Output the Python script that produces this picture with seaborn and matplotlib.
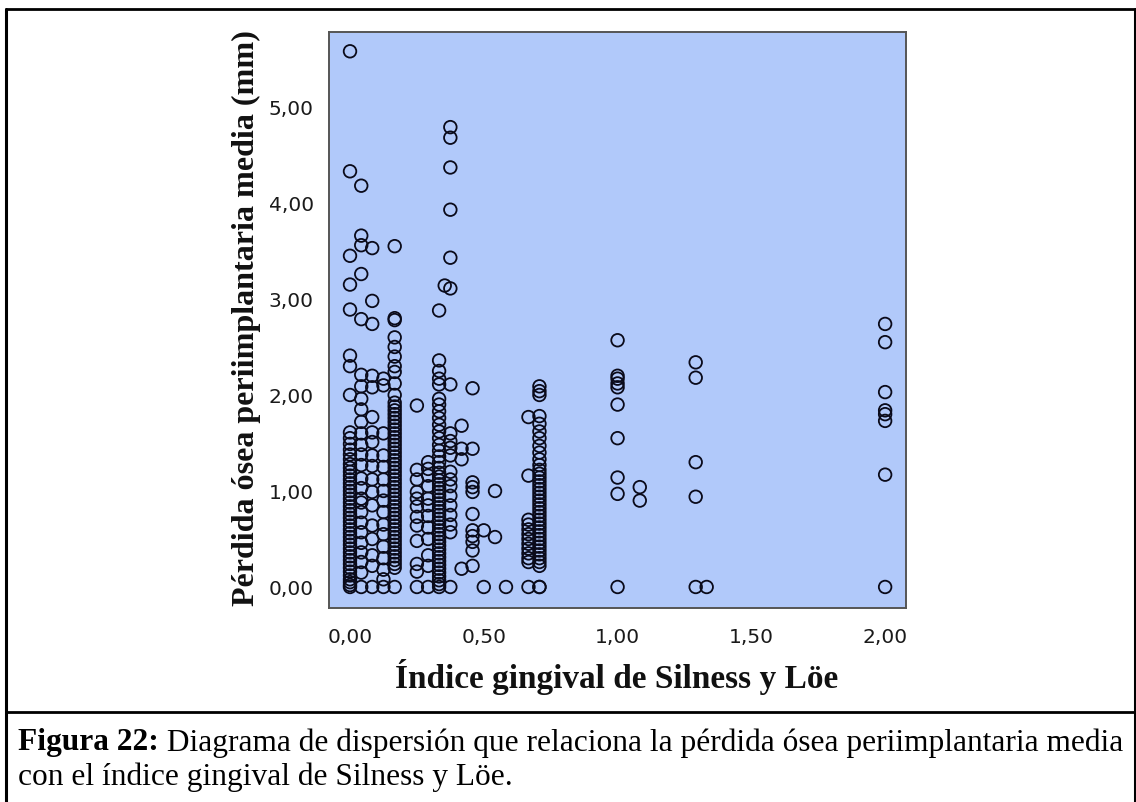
import numpy as np
import pandas as pd
import matplotlib
matplotlib.use("Agg")
import matplotlib.pyplot as plt
import seaborn as sns
from matplotlib.lines import Line2D

# ---------------- data ----------------
# gingival index values (x) and the mean peri-implant bone loss values (y) at each
gi_values = [0.000, 0.042, 0.083, 0.125, 0.167, 0.250, 0.292, 0.333, 0.354,
             0.375, 0.417, 0.458, 0.500, 0.542, 0.583, 0.667, 0.708,
             1.000, 1.083, 1.292, 1.333, 2.000]

y_000 = [5.58, 4.33, 3.45, 3.15, 2.89, 2.41, 2.30, 2.00, 1.61, 1.55, 1.49, 1.43,
         1.38, 1.33, 1.28, 1.24, 1.20, 1.16, 1.12, 1.08, 1.04, 1.00, 0.96, 0.92,
         0.88, 0.84, 0.80, 0.76, 0.72, 0.68, 0.64, 0.60, 0.56, 0.52, 0.48, 0.44,
         0.40, 0.36, 0.32, 0.28, 0.24, 0.20, 0.16, 0.12, 0.08, 0.05, 0.02, 0.00]
y_004 = [4.18, 3.66, 3.56, 3.26, 2.79, 2.21, 2.09, 1.96, 1.85, 1.72, 1.60, 1.48,
         1.38, 1.27, 1.13, 1.03, 0.92, 0.88, 0.78, 0.67, 0.57, 0.46, 0.36, 0.26,
         0.15, 0.00]
y_008 = [3.53, 2.98, 2.74, 2.20, 2.08, 1.77, 1.61, 1.51, 1.37, 1.26, 1.12, 0.99,
         0.85, 0.64, 0.50, 0.33, 0.22, 0.00]
y_013 = [2.17, 2.10, 1.60, 1.37, 1.25, 1.12, 1.00, 0.90, 0.78, 0.65, 0.55, 0.42,
         0.30, 0.18, 0.08, 0.00]
y_017 = [3.55, 2.80, 2.78, 2.60, 2.50, 2.40, 2.30, 2.24, 2.12, 2.00, 1.92, 1.88,
         1.84, 1.80, 1.76, 1.72, 1.68, 1.64, 1.60, 1.56, 1.52, 1.48, 1.44, 1.40,
         1.36, 1.32, 1.28, 1.24, 1.20, 1.16, 1.12, 1.08, 1.04, 1.00, 0.96, 0.92,
         0.88, 0.84, 0.80, 0.76, 0.72, 0.68, 0.64, 0.60, 0.56, 0.52, 0.48, 0.44,
         0.40, 0.36, 0.32, 0.28, 0.24, 0.20, 0.00]
y_025 = [1.89, 1.22, 1.12, 0.99, 0.92, 0.84, 0.73, 0.64, 0.48, 0.24, 0.16, 0.00]
y_029 = [1.30, 1.23, 1.16, 1.05, 0.92, 0.85, 0.74, 0.62, 0.50, 0.33, 0.22, 0.00]
y_033 = [2.88, 2.36, 2.25, 2.17, 2.11, 1.96, 1.90, 1.83, 1.76, 1.69, 1.62, 1.55,
         1.48, 1.42, 1.36, 1.30, 1.24, 1.19, 1.15, 1.11, 1.07, 1.03, 0.99, 0.95,
         0.91, 0.87, 0.83, 0.79, 0.75, 0.71, 0.67, 0.63, 0.59, 0.55, 0.51, 0.47,
         0.43, 0.39, 0.35, 0.31, 0.27, 0.23, 0.19, 0.15, 0.11, 0.07, 0.03, 0.00]
y_035 = [3.14]
y_038 = [4.79, 4.68, 4.37, 3.93, 3.43, 3.11, 2.11, 1.60, 1.52, 1.45, 1.37, 1.20,
         1.12, 1.05, 0.95, 0.85, 0.75, 0.65, 0.57, 0.00]
y_042 = [1.68, 1.44, 1.33, 0.19]
y_046 = [2.07, 1.44, 1.09, 1.04, 0.99, 0.76, 0.59, 0.53, 0.47, 0.38, 0.22]
y_050 = [0.59, 0.00]
y_054 = [1.00, 0.52]
y_058 = [0.00]
y_067 = [1.77, 1.16, 0.70, 0.65, 0.60, 0.55, 0.50, 0.45, 0.40, 0.35, 0.30, 0.26,
         0.00]
y_071 = [2.09, 2.04, 2.00, 1.78, 1.70, 1.62, 1.55, 1.47, 1.40, 1.33, 1.27, 1.22,
         1.18, 1.14, 1.10, 1.06, 1.02, 0.98, 0.94, 0.90, 0.86, 0.82, 0.78, 0.74,
         0.70, 0.66, 0.62, 0.58, 0.54, 0.50, 0.46, 0.42, 0.38, 0.34, 0.30, 0.26,
         0.22, 0.00, 0.00]
y_100 = [2.57, 2.20, 2.17, 2.12, 2.08, 1.90, 1.55, 1.14, 0.97, 0.00]
y_108 = [1.04, 0.90]
y_129 = [2.34, 2.18, 1.30, 0.94, 0.00]
y_133 = [0.00]
y_200 = [2.74, 2.55, 2.03, 1.84, 1.80, 1.73, 1.17, 0.00]

y_columns = [y_000, y_004, y_008, y_013, y_017, y_025, y_029, y_033, y_035,
             y_038, y_042, y_046, y_050, y_054, y_058, y_067, y_071,
             y_100, y_108, y_129, y_133, y_200]

x_ticks = [0.0, 0.5, 1.0, 1.5, 2.0]
x_tick_labels = ["0,00", "0,50", "1,00", "1,50", "2,00"]
y_ticks = [0, 1, 2, 3, 4, 5]
y_tick_labels = ["0,00", "1,00", "2,00", "3,00", "4,00", "5,00"]

x_label = "Índice gingival de Silness y Löe"
y_label = "Pérdida ósea periimplantaria media (mm)"
caption_bold = "Figura 22:"
caption_rest1 = " Diagrama de dispersión que relaciona la pérdida ósea periimplantaria media"
caption_line2 = "con el índice gingival de Silness y Löe."

# ---------------- build table ----------------
xs, ys = [], []
for gx, col in zip(gi_values, y_columns):
    xs.extend([gx] * len(col))
    ys.extend(col)
df = pd.DataFrame({"gi": xs, "loss": ys})

# ---------------- figure ----------------
sns.set_theme(style="white")
plt.rcParams["font.family"] = ["DejaVu Sans"]

W, H = 1136, 803
fig = plt.figure(figsize=(W / 100, H / 100), dpi=100)
fig.patch.set_facecolor("white")

ax = fig.add_axes([329 / W, 1 - 609 / H, 577 / W, 576 / H])
ax.set_facecolor("#b1c9fa")
sns.scatterplot(data=df, x="gi", y="loss", ax=ax, marker="o", s=82,
                facecolor="none", edgecolor="#0a0a1a", linewidth=1.3, legend=False)
ax.set_xlim(-0.0785, 2.078)
ax.set_ylim(-0.219, 5.781)
ax.set_xticks(x_ticks)
ax.set_xticklabels(x_tick_labels)
ax.set_yticks(y_ticks)
ax.set_yticklabels(y_tick_labels)
ax.tick_params(axis="both", direction="out", length=9, width=2.2, color="black",
               labelsize=14.5, pad=2, labelcolor="#1a1a1a")
ax.tick_params(axis="x", pad=5)
ax.set_xlabel("")
ax.set_ylabel("")
for sp in ax.spines.values():
    sp.set_visible(True)
    sp.set_color("#555555")
    sp.set_linewidth(1.4)

renderer = fig.canvas.get_renderer()


def fit_text(x, y, s, target_px, axis="w", **kw):
    t = fig.text(x, y, s, fontsize=20, **kw)
    bb = t.get_window_extent(renderer=renderer)
    cur = bb.width if axis == "w" else bb.height
    t.set_fontsize(20 * target_px / cur)
    return t


fit_text(246 / W, 1 - 318 / H, y_label, 577, axis="h", rotation=90,
         ha="center", va="center", family="Liberation Serif", weight="bold",
         color="#111111")
fit_text(617 / W, 1 - 677 / H, x_label, 443, axis="w", ha="center", va="center",
         family="Liberation Serif", weight="bold", color="#111111")

# caption (bold lead + regular text)
tb = fig.text(18 / W, 1 - 743 / H, caption_bold, fontsize=20, ha="left",
              va="center", family="Liberation Serif", weight="bold", color="black")
tr = fig.text(0, 1 - 743 / H, caption_rest1, fontsize=20, ha="left",
              va="center", family="Liberation Serif", color="black")
wb = tb.get_window_extent(renderer=renderer).width
wr = tr.get_window_extent(renderer=renderer).width
fs = 20 * 1104 / (wb + wr)
tb.set_fontsize(fs)
tr.set_fontsize(fs)
wb = tb.get_window_extent(renderer=renderer).width
tr.set_x((18 + wb) / W)
fig.text(18 / W, 1 - 777 / H, caption_line2, fontsize=fs, ha="left",
         va="center", family="Liberation Serif", color="black")

# page frame lines
def hline(ypx, x0=6, x1=1136, lw=2.0):
    fig.add_artist(Line2D([x0 / W, x1 / W], [1 - ypx / H, 1 - ypx / H],
                          transform=fig.transFigure, color="black", lw=lw))


def vline(xpx, y0=10, y1=803, lw=2.2):
    fig.add_artist(Line2D([xpx / W, xpx / W], [1 - y0 / H, 1 - y1 / H],
                          transform=fig.transFigure, color="black", lw=lw))


hline(10)
hline(713)
vline(6)
vline(1134.5)

fig.savefig("out.png", dpi=100, facecolor="white")
